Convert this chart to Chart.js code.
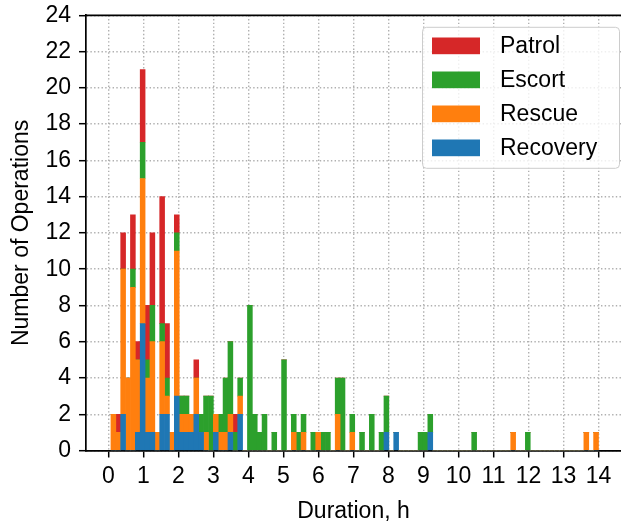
<!DOCTYPE html>
<html>
<head>
<meta charset="utf-8">
<title>Operations by duration</title>
<script src="https://cdn.jsdelivr.net/npm/chart.js@4.4.1/dist/chart.umd.min.js"></script>
<style>
  html, body { margin: 0; padding: 0; background: #fff; overflow: hidden; }
</style>
</head>
<body>
<canvas id="opsChart" width="621" height="525"></canvas>
<script>
// Histogram bins: 100 bins of equal width starting at BIN_START (hours)
const BIN_START = 0.07;
const BIN_WIDTH = 0.1393;

// Operation counts per bin, one array per operation type
const recoveryCounts = [
  0, 0, 2, 0, 0, 1, 7, 1, 1, 0,  2, 2, 0, 3, 1, 1, 1, 2, 1, 0,
  0, 1, 0, 0, 1, 0, 2, 0, 0, 0,  0, 0, 0, 0, 0, 0, 0, 0, 0, 0,
  0, 0, 0, 0, 0, 0, 0, 0, 0, 0,  0, 0, 0, 0, 0, 0, 1, 0, 1, 0,
  0, 0, 0, 0, 0, 1, 0, 0, 0, 0,  0, 0, 0, 0, 0, 0, 0, 0, 0, 0,
  0, 0, 0, 0, 0, 0, 0, 0, 0, 0,  0, 0, 0, 0, 0, 0, 0, 0, 0, 0
];
const rescueCounts = [
  2, 1, 8, 4, 9, 4, 8, 3, 5, 1,  4, 1, 1, 8, 1, 1, 1, 2, 0, 1,
  0, 1, 1, 1, 1, 0, 1, 0, 0, 0,  0, 0, 0, 0, 0, 0, 0, 1, 0, 1,
  0, 0, 1, 0, 0, 0, 2, 0, 0, 1,  0, 0, 0, 0, 0, 0, 0, 0, 0, 0,
  0, 0, 0, 0, 0, 0, 0, 0, 0, 0,  0, 0, 0, 0, 0, 0, 0, 0, 0, 0,
  0, 0, 1, 0, 0, 0, 0, 0, 0, 0,  0, 0, 0, 0, 0, 0, 0, 1, 0, 1
];
const escortCounts = [
  0, 0, 0, 0, 1, 0, 2, 1, 2, 0,  1, 1, 0, 1, 1, 1, 0, 0, 1, 2,
  3, 0, 1, 3, 4, 1, 1, 0, 8, 2,  1, 2, 0, 1, 0, 5, 0, 1, 1, 1,
  0, 1, 0, 1, 1, 0, 2, 4, 0, 1,  0, 1, 0, 2, 0, 1, 2, 0, 0, 0,
  0, 0, 0, 1, 1, 1, 0, 0, 0, 0,  0, 0, 0, 0, 1, 0, 0, 0, 0, 0,
  0, 0, 0, 0, 0, 1, 0, 0, 0, 0,  0, 0, 0, 0, 0, 0, 0, 0, 0, 0
];
const patrolCounts = [
  0, 1, 2, 0, 3, 1, 4, 3, 4, 0,  7, 3, 0, 1, 0, 0, 0, 1, 0, 0,
  0, 0, 0, 0, 0, 1, 0, 0, 0, 0,  0, 0, 0, 0, 0, 0, 0, 0, 0, 0,
  0, 0, 0, 0, 0, 0, 0, 0, 0, 0,  0, 0, 0, 0, 0, 0, 0, 0, 0, 0,
  0, 0, 0, 0, 0, 0, 0, 0, 0, 0,  0, 0, 0, 0, 0, 0, 0, 0, 0, 0,
  0, 0, 0, 0, 0, 0, 0, 0, 0, 0,  0, 0, 0, 0, 0, 0, 0, 0, 0, 0
];

const hourTicks = [0, 1, 2, 3, 4, 5, 6, 7, 8, 9, 10, 11, 12, 13, 14];
const countTicks = [0, 2, 4, 6, 8, 10, 12, 14, 16, 18, 20, 22, 24];

const FONT = 'Liberation Sans, Arial, sans-serif';
const FONT_SIZE = 23;
const GRID_COLOR = '#b0b0b0';

// bar centre of each bin
const toPoints = (counts) =>
  counts.map((c, i) => ({ x: BIN_START + (i + 0.5) * BIN_WIDTH, y: c }));

// stacked bottom-to-top: Recovery, Rescue, Escort, Patrol
const datasets = [
  { label: 'Recovery', data: toPoints(recoveryCounts), backgroundColor: '#1f77b4' },
  { label: 'Rescue', data: toPoints(rescueCounts), backgroundColor: '#ff7f0e' },
  { label: 'Escort', data: toPoints(escortCounts), backgroundColor: '#2ca02c' },
  { label: 'Patrol', data: toPoints(patrolCounts), backgroundColor: '#d62728' }
].map(d => Object.assign(d, { borderWidth: 0, barPercentage: 1, categoryPercentage: 1 }));

// top spine (Chart.js only draws the axis lines)
const topSpine = {
  id: 'topSpine',
  afterDraw(chart) {
    const { ctx, chartArea } = chart;
    ctx.save();
    ctx.strokeStyle = '#000';
    ctx.lineWidth = 1.7;
    ctx.beginPath();
    ctx.moveTo(chartArea.left - 0.85, chartArea.top);
    ctx.lineTo(chartArea.right, chartArea.top);
    ctx.stroke();
    ctx.restore();
  }
};

// matplotlib-like legend box in the upper right, topmost series first
const legendBox = {
  id: 'legendBox',
  afterDraw(chart) {
    const { ctx, chartArea } = chart;
    const x = 422.5, y = chartArea.top + 12, w = chartArea.right - 1.5 - x, h = 141, r = 4;
    ctx.save();
    ctx.beginPath();
    ctx.moveTo(x + r, y);
    ctx.arcTo(x + w, y, x + w, y + h, r);
    ctx.arcTo(x + w, y + h, x, y + h, r);
    ctx.arcTo(x, y + h, x, y, r);
    ctx.arcTo(x, y, x + w, y, r);
    ctx.closePath();
    ctx.fillStyle = 'rgba(255,255,255,0.8)';
    ctx.fill();
    ctx.strokeStyle = '#cccccc';
    ctx.lineWidth = 1;
    ctx.stroke();

    ctx.font = FONT_SIZE + 'px ' + FONT;
    ctx.textBaseline = 'middle';
    ctx.textAlign = 'left';
    const items = chart.data.datasets.slice().reverse();
    items.forEach((ds, i) => {
      const cy = y + 18.5 + i * 34;
      ctx.fillStyle = ds.backgroundColor;
      ctx.fillRect(x + 9.5, cy - 8.3, 48, 16.7);
      ctx.fillStyle = '#000';
      ctx.fillText(ds.label, x + 77.5, cy + 1);
    });
    ctx.restore();
  }
};

const tickFont = { family: FONT, size: FONT_SIZE };

new Chart(document.getElementById('opsChart'), {
  type: 'bar',
  data: { datasets },
  options: {
    responsive: false,
    devicePixelRatio: 1,
    animation: false,
    layout: { padding: { top: 15.3, right: 0, left: 0, bottom: 0 } },
    plugins: { legend: { display: false }, tooltip: { enabled: false } },
    scales: {
      x: {
        type: 'linear',
        stacked: true,
        min: -0.643,
        max: 14.643,
        offset: false,
        z: 1,
        afterBuildTicks: (s) => { s.ticks = hourTicks.map(v => ({ value: v })); },
        afterFit: (s) => { s.height = 74.5; s.paddingLeft = 0; s.paddingRight = 0; },
        grid: { color: GRID_COLOR, lineWidth: 1.4, offset: false, tickColor: '#000', tickWidth: 1.5, tickLength: 7 },
        border: { color: '#000', width: 1.7, dash: [1.4, 2.3] },
        ticks: { color: '#000', font: tickFont, padding: 5, maxRotation: 0, autoSkip: false },
        title: { display: true, text: 'Duration, h', color: '#000', font: tickFont, padding: { top: 0, bottom: 0 } }
      },
      y: {
        stacked: true,
        min: 0,
        max: 24,
        z: 1,
        afterBuildTicks: (s) => { s.ticks = countTicks.map(v => ({ value: v })); },
        afterFit: (s) => { s.width = 86; s.paddingTop = 0; s.paddingBottom = 0; },
        grid: { color: GRID_COLOR, lineWidth: 1.4, tickColor: '#000', tickWidth: 1.5, tickLength: 7 },
        border: { color: '#000', width: 1.7, dash: [1.4, 2.3] },
        ticks: { color: '#000', font: tickFont, padding: 8 },
        title: { display: true, text: 'Number of Operations', color: '#000', font: tickFont, padding: { top: 8, bottom: 0 } }
      }
    }
  },
  plugins: [topSpine, legendBox]
});
</script>
</body>
</html>
